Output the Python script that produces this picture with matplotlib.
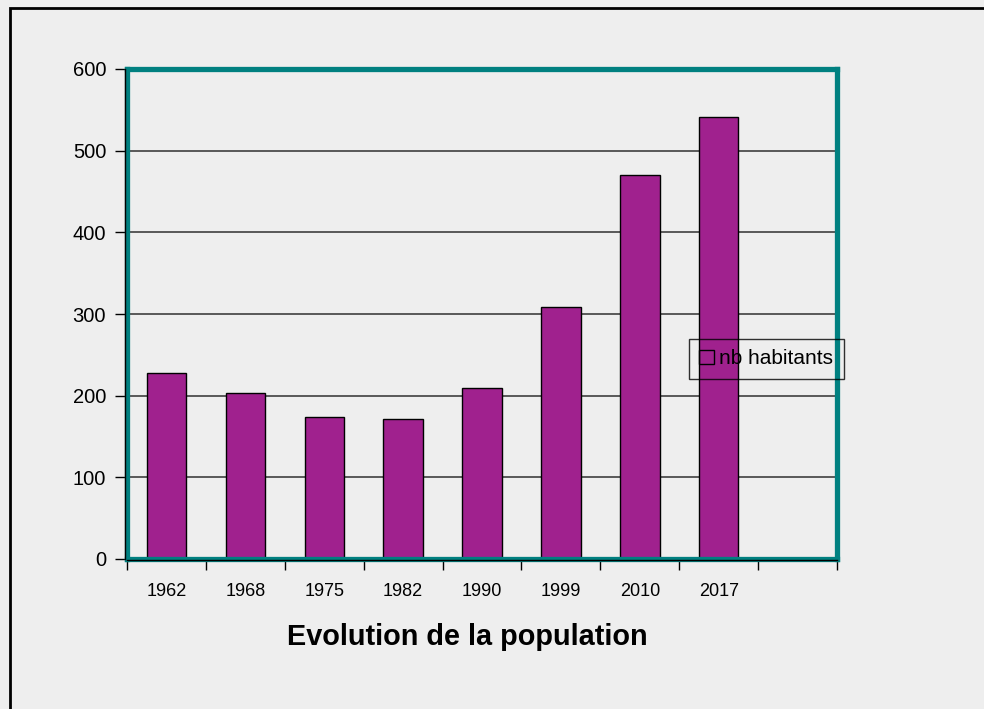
import matplotlib
matplotlib.use("Agg")
import matplotlib.pyplot as plt
from matplotlib.patches import Rectangle
from matplotlib.lines import Line2D

years = ["1962", "1968", "1975", "1982", "1990", "1999", "2010", "2017"]
habitants = [228, 203, 174, 171, 210, 309, 470, 541]
yticks = [0, 100, 200, 300, 400, 500, 600]
series_name = "nb habitants"
title = "Evolution de la population"

plt.rcParams['font.family'] = ['Liberation Sans', 'DejaVu Sans']

W, H = 984, 709
fig = plt.figure(figsize=(W / 100, H / 100), dpi=100)
fig.patch.set_facecolor('#eeeeee')
# outer black frame (right/bottom edges cut off)
fig.patches.append(Rectangle((10 / W, -0.1), 1.2, (H - 8) / H + 0.1, transform=fig.transFigure,
                             fill=False, edgecolor='black', linewidth=2))

l, r, t, b = 127, 837, 69, 559
ax = fig.add_axes([l / W, (H - b) / H, (r - l) / W, (b - t) / H])
ax.set_facecolor('#eeeeee')

n_slots = len(years) + 1
x = list(range(len(years)))
ax.bar(x, habitants, width=0.5, color='#a0218e', edgecolor='black', linewidth=1, zorder=3)

ax.set_xlim(-0.5, n_slots - 0.5)
ax.set_ylim(0, 600)
ax.set_yticks(yticks)
ax.set_yticklabels([str(v) for v in yticks], fontsize=14.5)
for v in yticks[1:-1]:
    ax.axhline(v, color='#4d4d4d', linewidth=1.3, zorder=1)

ax.set_xticks([i - 0.5 for i in range(n_slots + 1)])
ax.set_xticklabels([])
ax.set_xticks(x, minor=True)
ax.set_xticklabels(years, minor=True, fontsize=13)
ax.tick_params(axis='x', which='major', direction='out', length=8, width=1, color='black')
ax.tick_params(axis='x', which='minor', length=0, pad=17)
ax.tick_params(axis='y', direction='out', length=9, width=1, color='black', pad=6)

for s in ax.spines.values():
    s.set_color('#008080')
    s.set_linewidth(3.8)
    s.set_zorder(4)

# thin black axis lines
ax.add_line(Line2D([0, 1], [-0.003, -0.003], transform=ax.transAxes, color='black', linewidth=1, zorder=5, clip_on=False))
ax.add_line(Line2D([-0.003, -0.003], [0, 1], transform=ax.transAxes, color='black', linewidth=1, zorder=5, clip_on=False))

handle = Rectangle((0, 0), 1, 1, facecolor='none', edgecolor='black', linewidth=1)
leg = fig.legend([handle], [series_name], loc='upper left',
                 bbox_to_anchor=(689 / W, 1 - 339 / H), fontsize=15,
                 frameon=True, fancybox=False, edgecolor='black',
                 handlelength=0.7, handleheight=0.7, handletextpad=0.25,
                 borderpad=0.5, borderaxespad=0)
leg.get_frame().set_facecolor('none')
leg.get_frame().set_linewidth(1)

fig.text(467 / W, 1 - 637 / H, title, ha='center', va='center', fontsize=20.8, fontweight='bold')

fig.savefig('out.png', dpi=100, facecolor=fig.get_facecolor())
